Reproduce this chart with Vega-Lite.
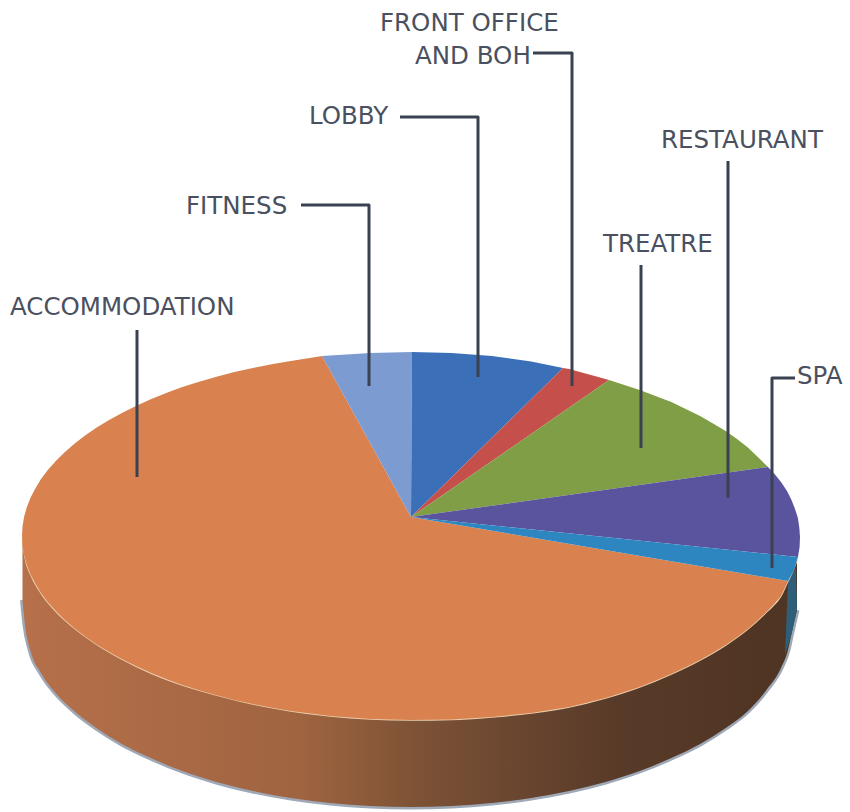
{"$schema":"https://vega.github.io/schema/vega-lite/v6.json","width":850,"height":812,"padding":0,"autosize":{"type":"none"},"background":"#ffffff","config":{"view":{"stroke":null}},
"datasets":{
"slices":[
{"slice":"Accommodation","order":0,"x":411,"y":517},{"slice":"Accommodation","order":1,"x":788,"y":581},{"slice":"Accommodation","order":2,"x":781,"y":596},{"slice":"Accommodation","order":2.5,"x":774.2,"y":604},{"slice":"Accommodation","order":3,"x":766.4,"y":612},{"slice":"Accommodation","order":3.5,"x":757.6,"y":620.5},{"slice":"Accommodation","order":4,"x":747.9,"y":629},{"slice":"Accommodation","order":4.5,"x":737.3,"y":637},{"slice":"Accommodation","order":5,"x":725.7,"y":645},{"slice":"Accommodation","order":5.5,"x":713.3,"y":652.5},{"slice":"Accommodation","order":6,"x":700.1,"y":660},{"slice":"Accommodation","order":6.5,"x":686.1,"y":667},{"slice":"Accommodation","order":7,"x":671.3,"y":674},{"slice":"Accommodation","order":7.5,"x":655.8,"y":680.5},{"slice":"Accommodation","order":8,"x":639.7,"y":687},{"slice":"Accommodation","order":8.5,"x":622.9,"y":692.5},{"slice":"Accommodation","order":9,"x":605.5,"y":698},{"slice":"Accommodation","order":9.5,"x":587.6,"y":702.5},{"slice":"Accommodation","order":10,"x":569.2,"y":707},{"slice":"Accommodation","order":10.5,"x":550.4,"y":710},{"slice":"Accommodation","order":11,"x":531.2,"y":713},{"slice":"Accommodation","order":12,"x":491.9,"y":717},{"slice":"Accommodation","order":13,"x":451.7,"y":719.5},{"slice":"Accommodation","order":14,"x":411,"y":720},{"slice":"Accommodation","order":15,"x":370.3,"y":719},{"slice":"Accommodation","order":16,"x":330.1,"y":716},{"slice":"Accommodation","order":17,"x":290.8,"y":711},{"slice":"Accommodation","order":17.5,"x":271.6,"y":707.8},{"slice":"Accommodation","order":18,"x":252.8,"y":704.1},{"slice":"Accommodation","order":18.5,"x":234.4,"y":699.9},{"slice":"Accommodation","order":19,"x":216.5,"y":695.3},{"slice":"Accommodation","order":19.5,"x":199.1,"y":690.3},{"slice":"Accommodation","order":20,"x":182.3,"y":684.9},{"slice":"Accommodation","order":20.5,"x":166.2,"y":679},{"slice":"Accommodation","order":21,"x":150.7,"y":672.7},{"slice":"Accommodation","order":21.5,"x":135.9,"y":666.1},{"slice":"Accommodation","order":22,"x":121.9,"y":659.1},{"slice":"Accommodation","order":22.5,"x":108.7,"y":651.8},{"slice":"Accommodation","order":23,"x":96.3,"y":644.2},{"slice":"Accommodation","order":23.5,"x":84.7,"y":636.2},{"slice":"Accommodation","order":24,"x":74.1,"y":628},{"slice":"Accommodation","order":24.5,"x":64.4,"y":619.5},{"slice":"Accommodation","order":25,"x":55.6,"y":610.8},{"slice":"Accommodation","order":25.5,"x":47.8,"y":601.9},{"slice":"Accommodation","order":26,"x":41,"y":592.9},{"slice":"Accommodation","order":26.5,"x":35.3,"y":583.6},{"slice":"Accommodation","order":27,"x":30.5,"y":574.3},{"slice":"Accommodation","order":27.5,"x":26.8,"y":564.8},{"slice":"Accommodation","order":28,"x":24.1,"y":555.2},{"slice":"Accommodation","order":28.5,"x":22.5,"y":545.6},{"slice":"Accommodation","order":29,"x":22,"y":536},{"slice":"Accommodation","order":29.5,"x":22.5,"y":526.4},{"slice":"Accommodation","order":30,"x":24.1,"y":516.8},{"slice":"Accommodation","order":30.5,"x":26.8,"y":507.2},{"slice":"Accommodation","order":31,"x":30.5,"y":497.7},{"slice":"Accommodation","order":31.5,"x":35.3,"y":488.4},{"slice":"Accommodation","order":32,"x":41,"y":479.1},{"slice":"Accommodation","order":32.5,"x":47.8,"y":470.1},{"slice":"Accommodation","order":33,"x":55.6,"y":461.2},{"slice":"Accommodation","order":33.5,"x":64.4,"y":452.5},{"slice":"Accommodation","order":34,"x":74.1,"y":444},{"slice":"Accommodation","order":34.5,"x":84.7,"y":435.8},{"slice":"Accommodation","order":35,"x":96.3,"y":427.8},{"slice":"Accommodation","order":35.5,"x":108.7,"y":420.2},{"slice":"Accommodation","order":36,"x":121.9,"y":412.9},{"slice":"Accommodation","order":36.5,"x":135.9,"y":405.9},{"slice":"Accommodation","order":37,"x":150.7,"y":399.3},{"slice":"Accommodation","order":37.5,"x":166.2,"y":393},{"slice":"Accommodation","order":38,"x":182.3,"y":387.1},{"slice":"Accommodation","order":38.5,"x":199.1,"y":381.7},{"slice":"Accommodation","order":39,"x":216.5,"y":376.7},{"slice":"Accommodation","order":39.5,"x":234.4,"y":372.1},{"slice":"Accommodation","order":40,"x":252.8,"y":367.9},{"slice":"Accommodation","order":40.5,"x":271.6,"y":364.2},{"slice":"Accommodation","order":41,"x":290.8,"y":361},{"slice":"Accommodation","order":42,"x":322,"y":356},
{"slice":"Fitness","order":0,"x":411,"y":517},{"slice":"Fitness","order":1,"x":322,"y":356},{"slice":"Fitness","order":2,"x":330.1,"y":355.5},{"slice":"Fitness","order":3,"x":370.3,"y":353},{"slice":"Fitness","order":4,"x":412,"y":352},
{"slice":"Lobby","order":0,"x":411,"y":517},{"slice":"Lobby","order":1,"x":412,"y":352},{"slice":"Lobby","order":2,"x":451.7,"y":353},{"slice":"Lobby","order":3,"x":491.9,"y":356},{"slice":"Lobby","order":4,"x":531.2,"y":361.5},{"slice":"Lobby","order":5,"x":563,"y":368},
{"slice":"Front office and BOH","order":0,"x":411,"y":517},{"slice":"Front office and BOH","order":1,"x":563,"y":368},{"slice":"Front office and BOH","order":2,"x":569.2,"y":369},{"slice":"Front office and BOH","order":3,"x":605.5,"y":379},{"slice":"Front office and BOH","order":4,"x":609,"y":380},
{"slice":"Treatre","order":0,"x":411,"y":517},{"slice":"Treatre","order":1,"x":609,"y":380},{"slice":"Treatre","order":2,"x":639.7,"y":390},{"slice":"Treatre","order":2.5,"x":655.5,"y":396},{"slice":"Treatre","order":3,"x":671.3,"y":402},{"slice":"Treatre","order":3.5,"x":685.7,"y":409},{"slice":"Treatre","order":4,"x":700.1,"y":416},{"slice":"Treatre","order":4.5,"x":713,"y":423.5},{"slice":"Treatre","order":5,"x":725.7,"y":431},{"slice":"Treatre","order":5.5,"x":737,"y":439},{"slice":"Treatre","order":6,"x":747.9,"y":447.5},{"slice":"Treatre","order":7,"x":768,"y":467},
{"slice":"Restaurant","order":0,"x":411,"y":517},{"slice":"Restaurant","order":1,"x":768,"y":467},{"slice":"Restaurant","order":1.5,"x":775,"y":474.5},{"slice":"Restaurant","order":2,"x":781,"y":482},{"slice":"Restaurant","order":2.5,"x":787,"y":491},{"slice":"Restaurant","order":3,"x":791.5,"y":500},{"slice":"Restaurant","order":3.5,"x":795,"y":509},{"slice":"Restaurant","order":4,"x":797.9,"y":518},{"slice":"Restaurant","order":4.5,"x":799.3,"y":527.5},{"slice":"Restaurant","order":5,"x":800,"y":537},{"slice":"Restaurant","order":5.5,"x":799.6,"y":547},{"slice":"Restaurant","order":6,"x":798,"y":557},
{"slice":"Spa","order":0,"x":411,"y":517},{"slice":"Spa","order":1,"x":798,"y":557},{"slice":"Spa","order":2,"x":794,"y":570},{"slice":"Spa","order":3,"x":788,"y":581}
],
"side":[
{"x":22.5,"y":540,"y2":600},{"x":25,"y":557,"y2":625},{"x":30.5,"y":574,"y2":651},{"x":41,"y":593,"y2":673},{"x":55.6,"y":611,"y2":693},{"x":74.1,"y":628,"y2":711},{"x":96.3,"y":644,"y2":728},{"x":121.9,"y":659,"y2":744},{"x":150.7,"y":673,"y2":758},{"x":182.3,"y":685,"y2":771},{"x":216.5,"y":695,"y2":782},{"x":252.8,"y":704,"y2":791},{"x":290.8,"y":711,"y2":798},{"x":330.1,"y":716,"y2":803},{"x":370.3,"y":719,"y2":806},{"x":411,"y":720,"y2":807},{"x":451.7,"y":719.5,"y2":806},{"x":491.9,"y":717,"y2":803},{"x":531.2,"y":713,"y2":798},{"x":569.2,"y":707,"y2":791},{"x":605.5,"y":698,"y2":782},{"x":639.7,"y":687,"y2":771},{"x":671.3,"y":674,"y2":758},{"x":700.1,"y":660,"y2":744},{"x":725.7,"y":645,"y2":728},{"x":747.9,"y":629,"y2":711},{"x":766.4,"y":612,"y2":690},{"x":781,"y":596,"y2":668},{"x":788,"y":581,"y2":650},{"x":791.5,"y":574,"y2":634},{"x":797,"y":560,"y2":610}
],
"sliver":[
{"slice":"Spa side","order":0,"x":788,"y":581},{"slice":"Spa side","order":1,"x":796,"y":568},{"slice":"Spa side","order":2,"x":797,"y":610},{"slice":"Spa side","order":3,"x":791.5,"y":634},{"slice":"Spa side","order":4,"x":785,"y":655}
],
"leaders":[
{"leader":"Front office and BOH","order":0,"x":533,"y":53},{"leader":"Front office and BOH","order":1,"x":572,"y":53},{"leader":"Front office and BOH","order":2,"x":572,"y":386},
{"leader":"Lobby","order":0,"x":400,"y":117},{"leader":"Lobby","order":1,"x":478,"y":117},{"leader":"Lobby","order":2,"x":478,"y":377},
{"leader":"Fitness","order":0,"x":301,"y":205},{"leader":"Fitness","order":1,"x":369,"y":205},{"leader":"Fitness","order":2,"x":369,"y":386},
{"leader":"Treatre","order":0,"x":641,"y":265},{"leader":"Treatre","order":1,"x":641,"y":448},
{"leader":"Restaurant","order":0,"x":728,"y":161},{"leader":"Restaurant","order":1,"x":728,"y":498},
{"leader":"Spa","order":0,"x":795,"y":378},{"leader":"Spa","order":1,"x":772,"y":378},{"leader":"Spa","order":2,"x":772,"y":568},
{"leader":"Accommodation","order":0,"x":137,"y":330},{"leader":"Accommodation","order":1,"x":137,"y":477}
],
"labels":[
{"label":"FRONT OFFICE","x":380,"y":24},{"label":"AND BOH","x":415,"y":57},{"label":"LOBBY","x":309,"y":117},{"label":"RESTAURANT","x":661,"y":141},{"label":"TREATRE","x":603,"y":245},{"label":"SPA","x":797,"y":377},{"label":"FITNESS","x":186,"y":207},{"label":"ACCOMMODATION","x":10,"y":308}
]},
"encoding":{
"x":{"field":"x","type":"quantitative","scale":{"domain":[0,850],"nice":false,"zero":false},"axis":null},
"y":{"field":"y","type":"quantitative","scale":{"domain":[812,0],"nice":false,"zero":false},"axis":null}
},
"layer":[
{"data":{"name":"side"},"mark":{"type":"line","interpolate":"monotone","stroke":"#9FA8B6","strokeWidth":5},"encoding":{"y":{"field":"y2","type":"quantitative","scale":{"domain":[812,0],"nice":false,"zero":false},"axis":null}}},
{"data":{"name":"side"},"mark":{"type":"area","interpolate":"monotone","color":{"gradient":"linear","x1":0,"x2":1,"y1":0,"y2":0,"stops":[{"offset":0,"color":"#B6704A"},{"offset":0.36,"color":"#9F6440"},{"offset":0.51,"color":"#7D5235"},{"offset":0.64,"color":"#6A4630"},{"offset":0.77,"color":"#583A28"},{"offset":1,"color":"#4F3423"}]}},"encoding":{"y2":{"field":"y2"}}},
{"data":{"name":"sliver"},"mark":{"type":"line","interpolate":"linear-closed","strokeWidth":0,"fill":"#2F5F78"},"encoding":{"order":{"field":"order","type":"quantitative"},"detail":{"field":"slice"}}},
{"data":{"name":"side"},"mark":{"type":"line","interpolate":"monotone","stroke":"#EBCFAE","strokeWidth":1.5}},
{"data":{"name":"slices"},"mark":{"type":"line","interpolate":"linear-closed","strokeWidth":0},"encoding":{"order":{"field":"order","type":"quantitative"},"fill":{"field":"slice","type":"nominal","legend":null,"scale":{"domain":["Accommodation","Fitness","Lobby","Front office and BOH","Treatre","Restaurant","Spa"],"range":["#D9824F","#7C9BD1","#3B70B8","#C5504B","#7F9E45","#5A549E","#2E86C1"]}}}},
{"data":{"name":"leaders"},"mark":{"type":"line","stroke":"#3A4150","strokeWidth":3,"strokeJoin":"round"},"encoding":{"order":{"field":"order","type":"quantitative"},"detail":{"field":"leader"}}},
{"data":{"name":"labels"},"mark":{"type":"text","align":"left","baseline":"middle","font":"DejaVu Sans","fontSize":24.5,"fill":"#4A5060"},"encoding":{"text":{"field":"label"}}}
]}
